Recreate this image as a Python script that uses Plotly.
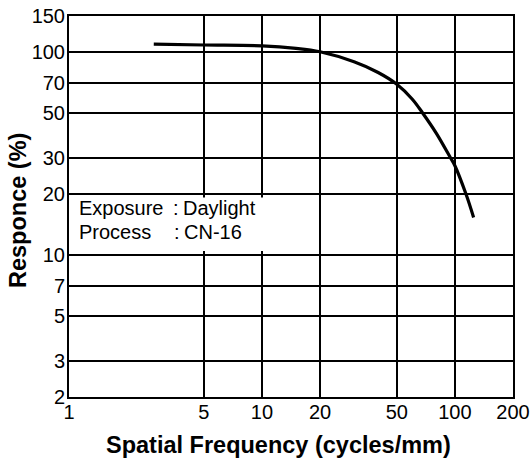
import numpy as np
import plotly.graph_objects as go

# ---- data ----
freq = [2.75, 5, 10, 15, 20, 30, 40, 50, 60, 68, 80, 95, 100, 114, 125]
resp = [109, 108, 107, 104, 100, 89.3, 79.1, 69.2, 58.6, 50, 39.8, 30, 27.5, 20, 15.3]

x_ticks = [1, 5, 10, 20, 50, 100, 200]
y_ticks = [2, 3, 5, 7, 10, 20, 30, 50, 70, 100, 150]

x_title = "Spatial Frequency (cycles/mm)"
y_title = "Responce (%)"
note_labels = ["Exposure", "Process"]
note_values = ["Daylight", "CN-16"]

FONT = "Liberation Sans, Arial, Helvetica, sans-serif"

W, H = 532, 461
L, R, T, B = 69, 19, 16, 64
pw = W - L - R
ph = H - T - B


def px_to_paper_x(px):
    return (px - L) / pw


def px_to_paper_y(py):
    return 1 - (py - T) / ph


fig = go.Figure()
fig.add_trace(go.Scatter(
    x=freq, y=resp, mode="lines",
    line=dict(color="black", width=3.2, shape="spline", smoothing=1.0),
    hoverinfo="skip", showlegend=False,
))

# white box behind the note (hides grid)
fig.add_shape(type="rect", xref="x", yref="y",
              x0=1, x1=10.7, y0=10.45, y1=19.2,
              fillcolor="white", line=dict(width=0), layer="between")

rows_y = [208, 232]
for i, (lab, val) in enumerate(zip(note_labels, note_values)):
    yp = px_to_paper_y(rows_y[i])
    for txt, px in [(lab, 77), (":", 171 + i), (val, 181 + i)]:
        fig.add_annotation(text=txt, xref="paper", yref="paper",
                           x=px_to_paper_x(px), y=yp, xanchor="left", yanchor="middle",
                           showarrow=False,
                           font=dict(family=FONT, size=20, color="black"))

# axis titles
fig.add_annotation(text="<b>" + x_title + "</b>", xref="paper", yref="paper",
                   x=px_to_paper_x(278), y=px_to_paper_y(445),
                   xanchor="center", yanchor="middle", showarrow=False,
                   font=dict(family=FONT, size=23.5, color="black"))
fig.add_annotation(text="<b>" + y_title + "</b>", xref="paper", yref="paper",
                   x=px_to_paper_x(18), y=px_to_paper_y(211), textangle=-90,
                   xanchor="center", yanchor="middle", showarrow=False,
                   font=dict(family=FONT, size=23.5, color="black"))

fig.update_xaxes(
    type="log", range=[np.log10(1), np.log10(200)],
    tickvals=x_ticks, ticktext=[str(v) for v in x_ticks],
    showgrid=True, gridcolor="black", gridwidth=1.5,
    showline=True, linecolor="black", linewidth=2, mirror=True,
    ticks="", zeroline=False, automargin=False, ticklabelstandoff=-4,
    tickfont=dict(family=FONT, size=20, color="black"),
)
fig.update_yaxes(
    type="log", range=[np.log10(2), np.log10(150)],
    tickvals=y_ticks, ticktext=[str(v) for v in y_ticks],
    showgrid=True, gridcolor="black", gridwidth=1.5,
    showline=True, linecolor="black", linewidth=2, mirror=True,
    ticks="", zeroline=False, automargin=False, ticklabelstandoff=-2,
    tickfont=dict(family=FONT, size=20, color="black"),
)

fig.update_layout(
    width=W, height=H,
    margin=dict(l=L, r=R, t=T, b=B, pad=0),
    paper_bgcolor="white", plot_bgcolor="white",
    showlegend=False,
)

fig.write_html("out.html", config={"displayModeBar": False},
               post_script="document.body.style.margin='0';document.body.style.padding='0';")
